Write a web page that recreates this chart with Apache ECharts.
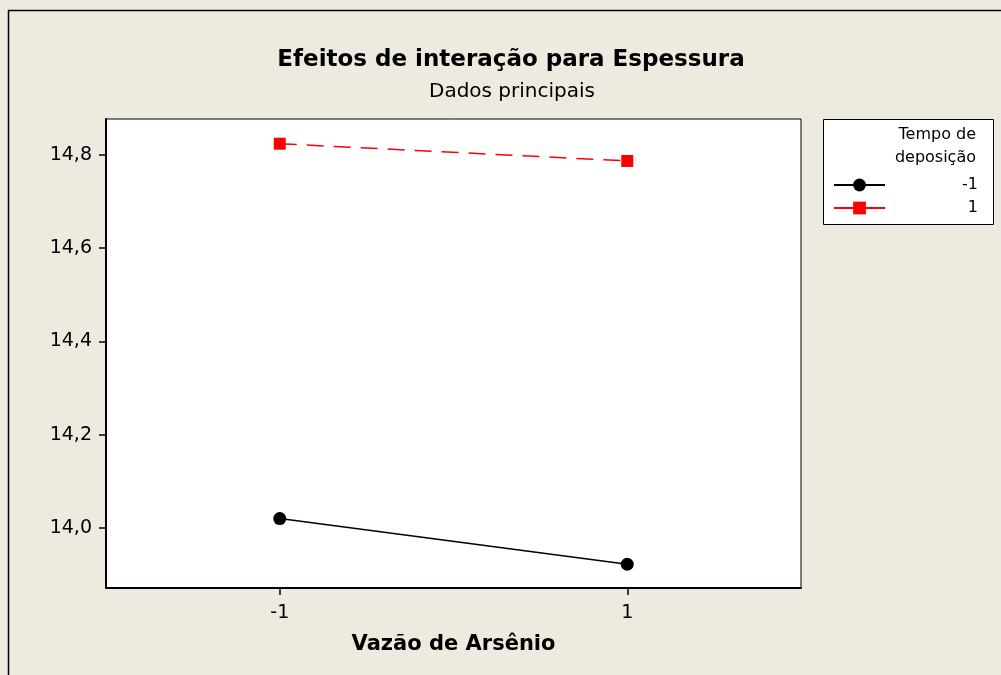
<!DOCTYPE html>
<html>
<head>
<meta charset="utf-8">
<script src="https://cdn.jsdelivr.net/npm/echarts@6/dist/echarts.min.js"></script>
<style>
html,body{margin:0;padding:0;background:#EEEAE0;}
#c{width:1001px;height:675px;}
</style>
</head>
<body>
<div id="c"></div>
<script>
const xValues = [-1, 1];
const seriesNames = ['-1', '1'];
const lowTime = [14.020, 13.922];
const highTime = [14.824, 14.787];
const yTicks = [14.0, 14.2, 14.4, 14.6, 14.8];

const FONT = 'DejaVu Sans';
const chart = echarts.init(document.getElementById('c'));
chart.setOption({
  backgroundColor: '#EEEAE0',
  animation: false,
  textStyle: {fontFamily: FONT},
  title: [{
    text: 'Efeitos de interação para Espessura',
    left: 506, top: 44, textAlign: 'center',
    textStyle: {fontFamily: FONT, fontWeight: 'bold', fontSize: 23, color: '#000'}
  }, {
    text: 'Dados principais',
    left: 507, top: 77, textAlign: 'center',
    textStyle: {fontFamily: FONT, fontWeight: 'normal', fontSize: 20, color: '#000'}
  }],
  graphic: [
    {type: 'rect', shape: {x: 8.5, y: 10.5, width: 1100, height: 800}, style: {fill: 'none', stroke: '#000', lineWidth: 1.5}, silent: true},
    {type: 'rect', shape: {x: 823.5, y: 119.5, width: 170, height: 105}, style: {fill: '#fff', stroke: '#000', lineWidth: 1}, silent: true, z: 0},
    {type: 'text', x: 976, y: 123, style: {text: 'Tempo de\ndeposição', align: 'right', font: '16px "DejaVu Sans"', lineHeight: 23, fill: '#000'}, z: 10}
  ],
  legend: {
    left: 833, top: 177, orient: 'vertical', padding: 0,
    itemGap: 7, itemWidth: 51, itemHeight: 16,
    data: seriesNames,
    lineStyle: {type: 'solid'},
    formatter: n => '{a|' + n + '}',
    textStyle: {rich: {a: {width: 88, align: 'right', fontSize: 16, fontFamily: FONT, color: '#000'}}}
  },
  grid: {left: 106, top: 119, width: 695, height: 469, show: true, backgroundColor: '#fff', borderColor: '#000', borderWidth: 1},
  xAxis: {
    type: 'value', min: -2, max: 2, interval: 1,
    name: 'Vazão de Arsênio', nameLocation: 'middle', nameGap: 46,
    nameTextStyle: {fontFamily: FONT, fontWeight: 'bold', fontSize: 21, color: '#000'},
    axisLine: {onZero: false, lineStyle: {color: '#000', width: 2}},
    axisTick: {show: true, length: 7, lineStyle: {color: '#000', width: 1.5}, customValues: xValues},
    axisLabel: {fontSize: 19, color: '#000', margin: 16, customValues: xValues, formatter: v => String(v)},
    splitLine: {show: false}
  },
  yAxis: {
    type: 'value', min: 13.871, max: 14.877,
    axisLine: {show: true, onZero: false, lineStyle: {color: '#000', width: 2}},
    axisTick: {show: true, length: 7, lineStyle: {color: '#000', width: 1.5}, customValues: yTicks},
    axisLabel: {fontSize: 19, color: '#000', margin: 14, customValues: yTicks, formatter: v => v.toFixed(1).replace('.', ',')},
    splitLine: {show: false}
  },
  series: [{
    name: seriesNames[0], type: 'line',
    data: xValues.map((x, i) => [x, lowTime[i]]),
    symbol: 'circle', symbolSize: 13,
    lineStyle: {color: '#000', width: 1.5},
    itemStyle: {color: '#000'}
  }, {
    name: seriesNames[1], type: 'line',
    data: xValues.map((x, i) => [x, highTime[i]]),
    symbol: 'rect', symbolSize: 12,
    lineStyle: {color: '#ff0000', width: 1.5, type: [17, 10]},
    itemStyle: {color: '#ff0000'}
  }]
});
</script>
</body>
</html>
